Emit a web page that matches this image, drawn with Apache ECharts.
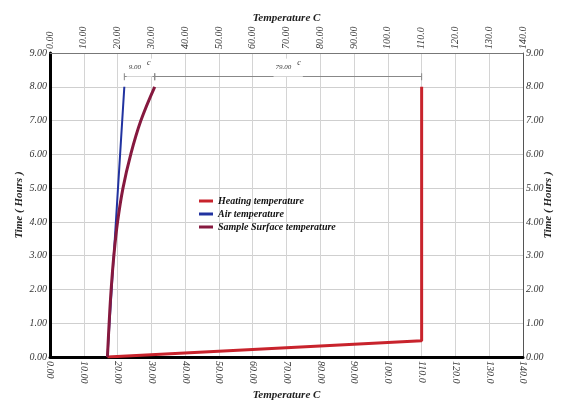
<!DOCTYPE html>
<html><head><meta charset="utf-8">
<script src="https://cdn.jsdelivr.net/npm/echarts@6/dist/echarts.min.js"></script>
<style>html,body{margin:0;padding:0;background:#fff}#c{width:564px;height:403px}</style>
</head><body><div id="c"></div>
<script>
var xTicks = ['0.00','10.00','20.00','30.00','40.00','50.00','60.00','70.00','80.00','90.00','100.0','110.0','120.0','130.0','140.0'];
var yTicks = ['0.00','1.00','2.00','3.00','4.00','5.00','6.00','7.00','8.00','9.00'];
var heatingTemp = [17, 110, 110];
var heatingTime = [0, 0.48, 8];
var airTemp = [17, 22];
var airTime = [0, 8];
var sampleTemp = [17, 17.5, 18.1, 18.9, 20.0, 21.6, 23.9, 26.9, 31];
var sampleTime = [0, 1, 2, 3, 4, 5, 6, 7, 8];
var dimLevel = 8.3;
var dimPoints = [22, 31, 110];
var dimLabels = ['9.00', '79.00'];

function pairs(xs, ys){ return xs.map(function(v,i){ return [v, ys[i]]; }); }
var FONT = 'Liberation Serif';
var ch = echarts.init(document.getElementById('c'));
function xAxis(pos, lineW){
  return {
    type:'value', position:pos, min:0, max:140, interval:10,
    name:'Temperature C', nameLocation:'middle', nameGap: pos==='top'?29:33, nameMoveOverlap:false,
    nameTextStyle:{fontFamily:FONT, fontStyle:'italic', fontWeight:'bold', fontSize:11, color:'#222'},
    axisLine:{show:true, onZero:false, lineStyle:{color: pos==='bottom'?'#000':'#777', width:lineW}},
    axisTick:{show:false},
    splitLine:{show: pos==='bottom', lineStyle:{color:'#d4d4d4', width:1}},
    axisLabel:{rotate:-90, margin:4, fontFamily:FONT, fontStyle:'italic', fontSize:10, color:'#333',
      formatter:function(v){ return xTicks[Math.round(v/10)]; }}
  };
}
function yAxis(pos, lineW){
  return {
    type:'value', position:pos, min:0, max:9, interval:1,
    name:'Time ( Hours )', nameLocation:'middle', nameGap: pos==='left'?25:20, nameMoveOverlap:false,
    nameTextStyle:{fontFamily:FONT, fontStyle:'italic', fontWeight:'bold', fontSize:11, color:'#222'},
    axisLine:{show:true, onZero:false, lineStyle:{color: pos==='left'?'#000':'#555', width:lineW}},
    axisTick:{show:false},
    splitLine:{show: pos==='left', lineStyle:{color:'#cfcfcf', width:1}},
    axisLabel:{margin:3, fontFamily:FONT, fontStyle:'italic', fontSize:10, color:'#333',
      formatter:function(v){ return yTicks[Math.round(v)]; }}
  };
}
var dimData = [];
for (var i=0;i<dimLabels.length;i++){
  dimData.push([{coord:[dimPoints[i], dimLevel], label:{formatter:'{v|'+dimLabels[i]+'}{s|c}'}},{coord:[dimPoints[i+1], dimLevel]}]);
}
ch.setOption({
  animation:false,
  grid:{left:50, right:41, top:53, bottom:46, outerBoundsMode:'none', containLabel:false},
  xAxis:[xAxis('bottom',3), xAxis('top',1)],
  yAxis:[yAxis('left',3), yAxis('right',1)],
  legend:{
    orient:'vertical', left:194, top:191, itemWidth:14, itemHeight:3, itemGap:3, icon:'rect',
    textStyle:{fontFamily:FONT, fontStyle:'italic', fontWeight:'bold', fontSize:10, color:'#111'},
    data:['Heating temperature','Air temperature','Sample Surface temperature']
  },
  series:[
    {name:'Heating temperature', type:'line', data:pairs(heatingTemp, heatingTime), symbol:'none',
     lineStyle:{color:'#c8232c', width:3}, itemStyle:{color:'#c8232c'},
     markLine:{silent:true, symbol:['rect','rect'], symbolSize:[7,1],
       lineStyle:{color:'#888', width:1, type:'solid'},
       label:{show:true, position:'middle', distance:0, backgroundColor:'#fff', padding:[0,2],
         rich:{v:{fontFamily:FONT, fontStyle:'italic', fontSize:7, color:'#333'},
               s:{fontFamily:FONT, fontStyle:'italic', fontSize:8, color:'#333', padding:[0,0,10,6]}}},
       data:dimData}},
    {name:'Air temperature', type:'line', data:pairs(airTemp, airTime), symbol:'none',
     lineStyle:{color:'#2132a0', width:2}, itemStyle:{color:'#2132a0'}},
    {name:'Sample Surface temperature', type:'line', data:pairs(sampleTemp, sampleTime), symbol:'none', smooth:0.4,
     lineStyle:{color:'#86193f', width:3}, itemStyle:{color:'#86193f'}}
  ]
});
</script></body></html>
